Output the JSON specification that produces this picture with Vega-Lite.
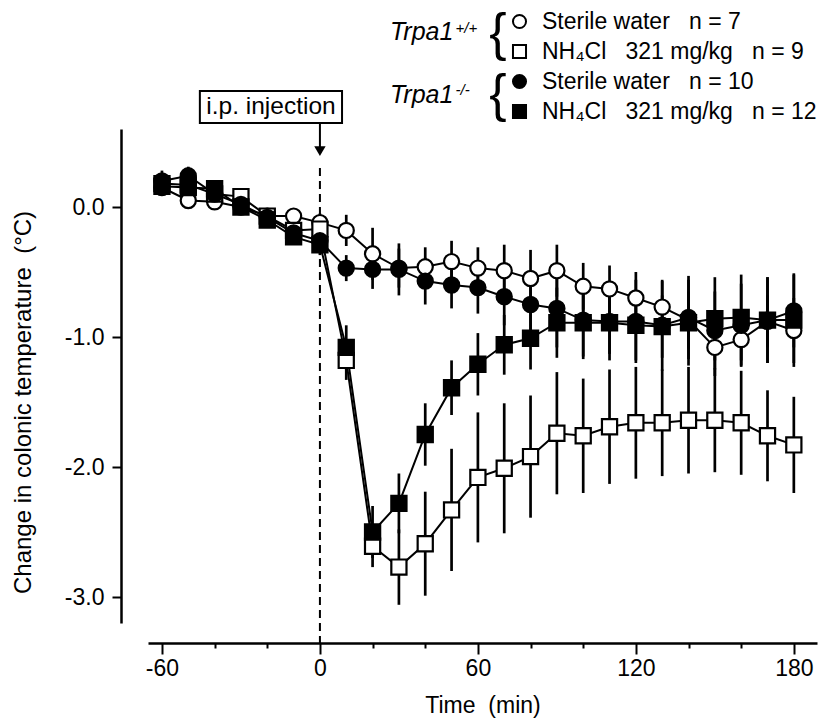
{
  "$schema": "https://vega.github.io/schema/vega-lite/v6.json",
  "width": 669,
  "height": 494,
  "autosize": {"type": "none"},
  "padding": {"left": 148, "top": 129, "right": 9, "bottom": 97},
  "config": {
    "font": "Liberation Sans",
    "view": {"stroke": null},
    "legend": {
      "orient": "none",
      "legendX": 360,
      "legendY": -119,
      "padding": 0,
      "rowPadding": 6,
      "labelFontSize": 23,
      "labelColor": "black",
      "labelOffset": 11,
      "labelLimit": 0,
      "symbolSize": 170,
      "symbolStrokeWidth": 2
    }
  },
  "datasets": {
    "obs": [
      {"s": "A", "t": -60, "v": 0.15, "e": 0.06},
      {"s": "A", "t": -50, "v": 0.05, "e": 0.05},
      {"s": "A", "t": -40, "v": 0.04, "e": 0.05},
      {"s": "A", "t": -30, "v": 0.0, "e": 0.05},
      {"s": "A", "t": -20, "v": -0.07, "e": 0.05},
      {"s": "A", "t": -10, "v": -0.07, "e": 0.06},
      {"s": "A", "t": 0, "v": -0.12, "e": 0.07},
      {"s": "A", "t": 10, "v": -0.18, "e": 0.12},
      {"s": "A", "t": 20, "v": -0.36, "e": 0.2},
      {"s": "A", "t": 30, "v": -0.47, "e": 0.15},
      {"s": "A", "t": 40, "v": -0.46, "e": 0.15},
      {"s": "A", "t": 50, "v": -0.42, "e": 0.16},
      {"s": "A", "t": 60, "v": -0.47, "e": 0.16},
      {"s": "A", "t": 70, "v": -0.49, "e": 0.2},
      {"s": "A", "t": 80, "v": -0.55, "e": 0.22},
      {"s": "A", "t": 90, "v": -0.49, "e": 0.2},
      {"s": "A", "t": 100, "v": -0.61, "e": 0.18},
      {"s": "A", "t": 110, "v": -0.63, "e": 0.18},
      {"s": "A", "t": 120, "v": -0.7, "e": 0.2},
      {"s": "A", "t": 130, "v": -0.77, "e": 0.2},
      {"s": "A", "t": 140, "v": -0.87, "e": 0.22},
      {"s": "A", "t": 150, "v": -1.08, "e": 0.22},
      {"s": "A", "t": 160, "v": -1.02, "e": 0.2},
      {"s": "A", "t": 170, "v": -0.88, "e": 0.2},
      {"s": "A", "t": 180, "v": -0.95, "e": 0.25},
      {"s": "B", "t": -60, "v": 0.18, "e": 0.06},
      {"s": "B", "t": -50, "v": 0.17, "e": 0.06},
      {"s": "B", "t": -40, "v": 0.1, "e": 0.05},
      {"s": "B", "t": -30, "v": 0.08, "e": 0.05},
      {"s": "B", "t": -20, "v": -0.07, "e": 0.05},
      {"s": "B", "t": -10, "v": -0.18, "e": 0.06},
      {"s": "B", "t": 0, "v": -0.17, "e": 0.07},
      {"s": "B", "t": 10, "v": -1.18, "e": 0.15},
      {"s": "B", "t": 20, "v": -2.61, "e": 0.16},
      {"s": "B", "t": 30, "v": -2.77, "e": 0.29},
      {"s": "B", "t": 40, "v": -2.59, "e": 0.4},
      {"s": "B", "t": 50, "v": -2.33, "e": 0.47},
      {"s": "B", "t": 60, "v": -2.08, "e": 0.5},
      {"s": "B", "t": 70, "v": -2.01, "e": 0.5},
      {"s": "B", "t": 80, "v": -1.92, "e": 0.47},
      {"s": "B", "t": 90, "v": -1.74, "e": 0.47},
      {"s": "B", "t": 100, "v": -1.76, "e": 0.44},
      {"s": "B", "t": 110, "v": -1.69, "e": 0.44},
      {"s": "B", "t": 120, "v": -1.66, "e": 0.43},
      {"s": "B", "t": 130, "v": -1.66, "e": 0.41},
      {"s": "B", "t": 140, "v": -1.64, "e": 0.41},
      {"s": "B", "t": 150, "v": -1.64, "e": 0.4},
      {"s": "B", "t": 160, "v": -1.66, "e": 0.4},
      {"s": "B", "t": 170, "v": -1.76, "e": 0.35},
      {"s": "B", "t": 180, "v": -1.83, "e": 0.37},
      {"s": "C", "t": -60, "v": 0.2, "e": 0.08},
      {"s": "C", "t": -50, "v": 0.24, "e": 0.07},
      {"s": "C", "t": -40, "v": 0.1, "e": 0.05},
      {"s": "C", "t": -30, "v": 0.02, "e": 0.05},
      {"s": "C", "t": -20, "v": -0.08, "e": 0.05},
      {"s": "C", "t": -10, "v": -0.2, "e": 0.07},
      {"s": "C", "t": 0, "v": -0.26, "e": 0.08},
      {"s": "C", "t": 10, "v": -0.47, "e": 0.1},
      {"s": "C", "t": 20, "v": -0.48, "e": 0.15},
      {"s": "C", "t": 30, "v": -0.48, "e": 0.2},
      {"s": "C", "t": 40, "v": -0.57, "e": 0.18},
      {"s": "C", "t": 50, "v": -0.6, "e": 0.18},
      {"s": "C", "t": 60, "v": -0.62, "e": 0.2},
      {"s": "C", "t": 70, "v": -0.69, "e": 0.22},
      {"s": "C", "t": 80, "v": -0.75, "e": 0.25},
      {"s": "C", "t": 90, "v": -0.78, "e": 0.3},
      {"s": "C", "t": 100, "v": -0.87, "e": 0.3},
      {"s": "C", "t": 110, "v": -0.88, "e": 0.3},
      {"s": "C", "t": 120, "v": -0.88, "e": 0.32},
      {"s": "C", "t": 130, "v": -0.91, "e": 0.35},
      {"s": "C", "t": 140, "v": -0.85, "e": 0.32},
      {"s": "C", "t": 150, "v": -0.95, "e": 0.3},
      {"s": "C", "t": 160, "v": -0.91, "e": 0.32},
      {"s": "C", "t": 170, "v": -0.87, "e": 0.33},
      {"s": "C", "t": 180, "v": -0.8, "e": 0.28},
      {"s": "D", "t": -60, "v": 0.16, "e": 0.07},
      {"s": "D", "t": -50, "v": 0.15, "e": 0.07},
      {"s": "D", "t": -40, "v": 0.14, "e": 0.06},
      {"s": "D", "t": -30, "v": 0.0, "e": 0.05},
      {"s": "D", "t": -20, "v": -0.1, "e": 0.05},
      {"s": "D", "t": -10, "v": -0.23, "e": 0.06},
      {"s": "D", "t": 0, "v": -0.29, "e": 0.08},
      {"s": "D", "t": 10, "v": -1.08, "e": 0.17},
      {"s": "D", "t": 20, "v": -2.5, "e": 0.2},
      {"s": "D", "t": 30, "v": -2.28, "e": 0.23},
      {"s": "D", "t": 40, "v": -1.75, "e": 0.24},
      {"s": "D", "t": 50, "v": -1.39, "e": 0.21},
      {"s": "D", "t": 60, "v": -1.21, "e": 0.24},
      {"s": "D", "t": 70, "v": -1.06, "e": 0.23},
      {"s": "D", "t": 80, "v": -1.01, "e": 0.24},
      {"s": "D", "t": 90, "v": -0.89, "e": 0.27},
      {"s": "D", "t": 100, "v": -0.89, "e": 0.26},
      {"s": "D", "t": 110, "v": -0.89, "e": 0.24},
      {"s": "D", "t": 120, "v": -0.91, "e": 0.27},
      {"s": "D", "t": 130, "v": -0.92, "e": 0.24},
      {"s": "D", "t": 140, "v": -0.89, "e": 0.33},
      {"s": "D", "t": 150, "v": -0.86, "e": 0.32},
      {"s": "D", "t": 160, "v": -0.85, "e": 0.33},
      {"s": "D", "t": 170, "v": -0.87, "e": 0.33},
      {"s": "D", "t": 180, "v": -0.87, "e": 0.36}
    ]
  },
  "layer": [
    {
      "data": {"name": "obs"},
      "mark": {"type": "line", "color": "black", "strokeWidth": 2},
      "encoding": {
        "x": {
          "field": "t",
          "type": "quantitative",
          "title": "Time\u00a0\u00a0(min)",
          "scale": {"domain": [-65.3, 188.8], "nice": false, "zero": false},
          "axis": {
            "orient": "bottom",
            "offset": 20,
            "values": [-60, -50, -40, -30, -20, -10, 0, 10, 20, 30, 40, 50, 60, 70, 80, 90, 100, 110, 120, 130, 140, 150, 160, 170, 180],
            "grid": false,
            "tickSize": {"condition": {"test": "datum.value % 60 === 0", "value": 11}, "value": 5},
            "tickWidth": 2,
            "tickColor": "black",
            "domainWidth": 2.5,
            "domainColor": "black",
            "labelFontSize": 23,
            "labelColor": "black",
            "labelPadding": 3,
            "labelFlush": false,
            "labelOverlap": false,
            "labelExpr": "datum.value % 60 === 0 ? (datum.value < 0 ? '-' + abs(datum.value) : '' + datum.value) : ''",
            "titleFontSize": 23,
            "titleFontWeight": "normal",
            "titleColor": "black",
            "titlePadding": 14
          }
        },
        "y": {
          "field": "v",
          "type": "quantitative",
          "title": "Change in colonic temperature\u00a0\u00a0(°C)",
          "scale": {"domain": [-3.2, 0.6], "nice": false, "zero": false},
          "axis": {
            "orient": "left",
            "offset": 27,
            "values": [0, -1, -2, -3],
            "grid": false,
            "tickSize": 9,
            "tickWidth": 2,
            "tickColor": "black",
            "domainWidth": 2.5,
            "domainColor": "black",
            "labelFontSize": 23,
            "labelColor": "black",
            "labelPadding": 8,
            "labelExpr": "datum.value == 0 ? '0.0' : '-' + format(abs(datum.value), '.1f')",
            "titleFontSize": 24,
            "titleFontWeight": "normal",
            "titleColor": "black",
            "titlePadding": 29,
            "titleLimit": 0,
            "titleY": 273
          }
        },
        "detail": {"field": "s"}
      }
    },
    {
      "data": {"values": [{}]},
      "mark": {"type": "rule", "strokeDash": [8, 5], "strokeWidth": 2, "color": "black"},
      "encoding": {
        "x": {"datum": 0, "type": "quantitative"},
        "y": {"datum": 0.3, "type": "quantitative"},
        "y2": {"datum": -3.354}
      }
    },
    {
      "data": {"name": "obs"},
      "mark": {"type": "errorbar", "thickness": 2.7, "color": "black"},
      "encoding": {
        "x": {"field": "t", "type": "quantitative", "title": "Time\u00a0\u00a0(min)"},
        "y": {"field": "v", "type": "quantitative", "title": "Change in colonic temperature\u00a0\u00a0(°C)"},
        "yError": {"field": "e"},
        "detail": {"field": "s"}
      }
    },
    {
      "data": {"name": "obs"},
      "mark": {"type": "point", "filled": true, "size": 230, "strokeWidth": 2.2, "opacity": 1},
      "encoding": {
        "x": {"field": "t", "type": "quantitative", "title": "Time\u00a0\u00a0(min)"},
        "y": {"field": "v", "type": "quantitative", "title": "Change in colonic temperature\u00a0\u00a0(°C)"},
        "shape": {
          "field": "s",
          "type": "nominal",
          "title": null,
          "scale": {"domain": ["A", "B", "C", "D"], "range": ["circle", "square", "circle", "square"]},
          "legend": {
            "labelExpr": "datum.label == 'A' ? 'Sterile water\u00a0\u00a0\u00a0n = 7' : datum.label == 'B' ? 'NH\u2084Cl\u00a0\u00a0\u00a0321 mg/kg\u00a0\u00a0\u00a0n = 9' : datum.label == 'C' ? 'Sterile water\u00a0\u00a0\u00a0n = 10' : 'NH\u2084Cl\u00a0\u00a0\u00a0321 mg/kg\u00a0\u00a0\u00a0n = 12'"
          }
        },
        "fill": {
          "field": "s",
          "type": "nominal",
          "title": null,
          "scale": {"domain": ["A", "B", "C", "D"], "range": ["white", "white", "black", "black"]},
          "legend": {
            "labelExpr": "datum.label == 'A' ? 'Sterile water\u00a0\u00a0\u00a0n = 7' : datum.label == 'B' ? 'NH\u2084Cl\u00a0\u00a0\u00a0321 mg/kg\u00a0\u00a0\u00a0n = 9' : datum.label == 'C' ? 'Sterile water\u00a0\u00a0\u00a0n = 10' : 'NH\u2084Cl\u00a0\u00a0\u00a0321 mg/kg\u00a0\u00a0\u00a0n = 12'"
          }
        },
        "stroke": {
          "field": "s",
          "type": "nominal",
          "title": null,
          "scale": {"domain": ["A", "B", "C", "D"], "range": ["black", "black", "black", "black"]},
          "legend": {
            "labelExpr": "datum.label == 'A' ? 'Sterile water\u00a0\u00a0\u00a0n = 7' : datum.label == 'B' ? 'NH\u2084Cl\u00a0\u00a0\u00a0321 mg/kg\u00a0\u00a0\u00a0n = 9' : datum.label == 'C' ? 'Sterile water\u00a0\u00a0\u00a0n = 10' : 'NH\u2084Cl\u00a0\u00a0\u00a0321 mg/kg\u00a0\u00a0\u00a0n = 12'"
          }
        }
      }
    },
    {
      "data": {"values": [{}]},
      "mark": {"type": "rule", "strokeWidth": 2, "color": "black"},
      "encoding": {
        "x": {"datum": 0, "type": "quantitative"},
        "y": {"datum": 0.646, "type": "quantitative"},
        "y2": {"datum": 0.45}
      }
    },
    {
      "data": {"values": [{}]},
      "mark": {"type": "point", "shape": "triangle-down", "filled": true, "color": "black", "size": 130, "opacity": 1},
      "encoding": {
        "x": {"datum": 0, "type": "quantitative"},
        "y": {"datum": 0.43, "type": "quantitative"}
      }
    },
    {
      "data": {"values": [{}]},
      "mark": {"type": "rect", "fill": "white", "stroke": "black", "strokeWidth": 2},
      "encoding": {
        "x": {"datum": -45.6, "type": "quantitative"},
        "x2": {"datum": 8.4},
        "y": {"datum": 0.892, "type": "quantitative"},
        "y2": {"datum": 0.646}
      }
    },
    {
      "data": {"values": [{}]},
      "mark": {"type": "text", "text": "i.p. injection", "fontSize": 24.5, "align": "center", "baseline": "middle", "color": "black"},
      "encoding": {
        "x": {"datum": -18.6, "type": "quantitative"},
        "y": {"datum": 0.77, "type": "quantitative"}
      }
    },
    {
      "data": {"values": [{}]},
      "mark": {"type": "text", "text": "Trpa1", "fontSize": 25, "fontStyle": "italic", "align": "left", "baseline": "alphabetic", "color": "black"},
      "encoding": {
        "x": {"datum": 26.6, "type": "quantitative"},
        "y": {"datum": 1.285, "type": "quantitative"}
      }
    },
    {
      "data": {"values": [{}]},
      "mark": {"type": "text", "text": "+/+", "fontSize": 15, "fontStyle": "italic", "align": "left", "baseline": "alphabetic", "color": "black"},
      "encoding": {
        "x": {"datum": 51.5, "type": "quantitative"},
        "y": {"datum": 1.34, "type": "quantitative"}
      }
    },
    {
      "data": {"values": [{}]},
      "mark": {"type": "text", "text": "Trpa1", "fontSize": 25, "fontStyle": "italic", "align": "left", "baseline": "alphabetic", "color": "black"},
      "encoding": {
        "x": {"datum": 26.6, "type": "quantitative"},
        "y": {"datum": 0.8, "type": "quantitative"}
      }
    },
    {
      "data": {"values": [{}]},
      "mark": {"type": "text", "text": "-/-", "fontSize": 15, "fontStyle": "italic", "align": "left", "baseline": "alphabetic", "color": "black"},
      "encoding": {
        "x": {"datum": 51.5, "type": "quantitative"},
        "y": {"datum": 0.858, "type": "quantitative"}
      }
    },
    {
      "data": {"values": [{}]},
      "mark": {"type": "text", "text": "{", "fontSize": 52, "align": "center", "baseline": "middle", "color": "black"},
      "encoding": {
        "x": {"datum": 67.6, "type": "quantitative"},
        "y": {"datum": 1.33, "type": "quantitative"}
      }
    },
    {
      "data": {"values": [{}]},
      "mark": {"type": "text", "text": "{", "fontSize": 52, "align": "center", "baseline": "middle", "color": "black"},
      "encoding": {
        "x": {"datum": 67.6, "type": "quantitative"},
        "y": {"datum": 0.865, "type": "quantitative"}
      }
    }
  ]
}
